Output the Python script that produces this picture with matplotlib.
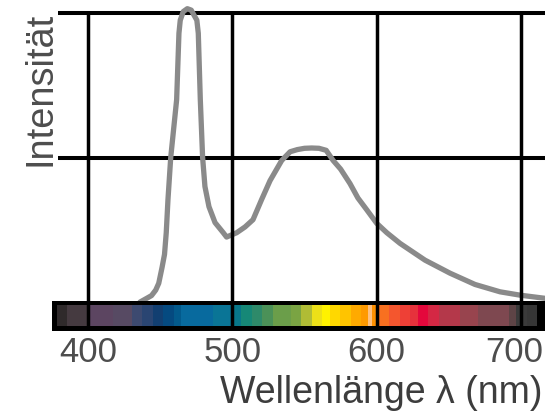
import matplotlib.pyplot as plt
from matplotlib.patches import Rectangle
import matplotlib.transforms as mtransforms

plt.rcParams['font.family'] = ['Liberation Sans', 'DejaVu Sans']

# spectrum curve (wavelength nm, relative intensity)
wavelength = [436, 441, 444, 446.9, 449, 451.3, 453, 454.2, 455.4, 457.3,
              461.4, 463, 463.9, 466, 468.8, 471.5, 475.4, 476.4, 477.8, 479.4,
              481, 483.8, 488, 493.7, 496, 503, 508.8, 514.3, 520.3, 526.1,
              534.2, 540, 545, 550, 555, 560, 565, 569.8, 575, 581.5,
              587, 593, 600, 607, 616.2, 633.5, 650.8, 668.1, 685.5, 699.3,
              716.6]
intensity = [0.0, 0.028, 0.045, 0.083, 0.13, 0.24, 0.33, 0.48, 0.71, 1.0,
             1.4, 1.86, 1.95, 2.01, 2.03, 2.02, 1.95, 1.86, 1.4, 1.0,
             0.8, 0.66, 0.55, 0.48, 0.45, 0.48, 0.52, 0.57, 0.71, 0.84,
             0.98, 1.04, 1.055, 1.064, 1.066, 1.064, 1.05, 0.98, 0.92, 0.82,
             0.72, 0.64, 0.545, 0.48, 0.406, 0.29, 0.2, 0.122, 0.071, 0.048,
             0.026]

# colour strip under the chart: cell edges (nm) and colours
strip_edges = [378.7, 385.7, 400, 417.5, 430.3, 437.2, 444.8, 452.2, 459.6, 464.2,
               486.4, 500, 506, 513.4, 520.3, 528.4, 540.6, 547.6, 555.4, 562.3,
               567.7, 574.6, 582.2, 589.1, 594.2, 596.6, 600, 608.8, 616.2, 623.1,
               628.8, 635.7, 643.4, 657.7, 670.4, 691.8, 696.5, 704.4, 710.8]
strip_colors = ['#2f2a2b', '#453a40', '#5c4561', '#574a63', '#3d4a70', '#2a4572',
                '#123f71', '#054a80', '#035a8c', '#086a9e', '#0a7596', '#08778a',
                '#168877', '#2e8a6a', '#4b9158', '#6b9e4a', '#7aa443', '#b0bc35',
                '#ece018', '#fff200', '#ffd800', '#ffc400', '#ffaa00', '#ff9a00',
                '#ffc080', '#ff9000', '#f87020', '#f4562e', '#ee4036', '#e6323c',
                '#e4083c', '#d42844', '#b4384a', '#98444e', '#7e4850', '#5e4446',
                '#3a3a3a', '#363636']

x_ticks = [400, 500, 600, 700]
x_ticklabels = ['400', '500', '600', '700']
y_grid = [1, 2]

W, H = 545, 413
fig = plt.figure(figsize=(W / 100, H / 100), dpi=100)
ax = fig.add_axes([52 / W, (H - 331) / H, (W - 52) / W, 331 / H])
x_min, x_max = 375.05, 716.6
y_min, y_max = -0.2, 2.09
ax.set_xlim(x_min, x_max)
ax.set_ylim(y_min, y_max)
ax.axis('off')

# horizontal grid lines
for y in y_grid:
    ax.plot([379.2, x_max], [y, y], color='black', lw=2.9, zorder=1,
            solid_capstyle='butt')

ax.plot(wavelength, intensity, color='#8a8a8a', lw=3.8, zorder=2,
        solid_joinstyle='round', solid_capstyle='round')

# colour strip with black frame
ax.add_patch(Rectangle((x_min, y_min), x_max - x_min, 0.207,
                       facecolor='black', edgecolor='none', zorder=3))
widths = [b - a for a, b in zip(strip_edges[:-1], strip_edges[1:])]
ax.bar(strip_edges[:-1], 0.145, width=widths, bottom=-0.166, align='edge',
       color=strip_colors, edgecolor='none', zorder=3.5)

# vertical grid lines (through the strip)
for x in x_ticks:
    ax.plot([x, x], [y_min, max(y_grid)], color='black', lw=2.5, zorder=4,
            solid_capstyle='butt')

# tick labels under the strip
label_shift = [0, 0, 0, -7]
for x, lab, dx in zip(x_ticks, x_ticklabels, label_shift):
    tr = ax.get_xaxis_transform() + mtransforms.ScaledTranslation(
        dx / 100, -(362 - 331) / 100, fig.dpi_scale_trans)
    ax.text(x, 0, lab, transform=tr, ha='center', va='baseline',
            fontsize=25, color='#4d4d4d', clip_on=False)

fig.text(542 / W, (H - 403) / H, 'Wellenlänge λ (nm)', ha='right', va='baseline',
         fontsize=27, color='#3d3d3d')
fig.text(50 / W, (H - 89) / H, 'Intensität', rotation=90, rotation_mode='anchor',
         ha='center', va='baseline', fontsize=27.4, color='#4d4d4d')

fig.savefig('out.png', dpi=100)
